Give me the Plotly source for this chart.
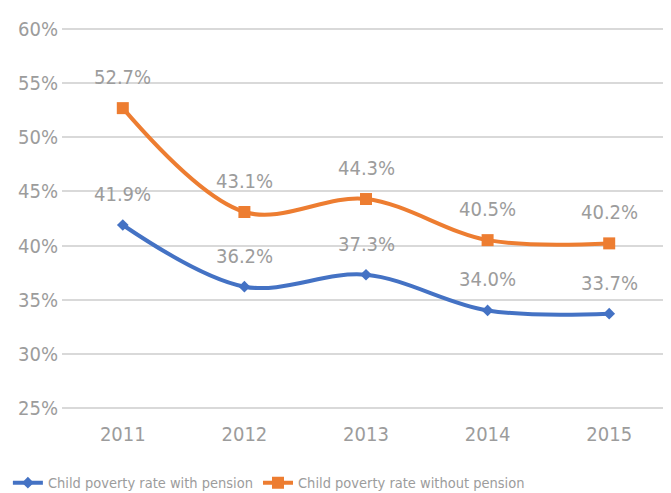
import plotly.graph_objects as go

years = ["2011", "2012", "2013", "2014", "2015"]
with_pension = [41.9, 36.2, 37.3, 34.0, 33.7]
without_pension = [52.7, 43.1, 44.3, 40.5, 40.2]
y_ticks = [25, 30, 35, 40, 45, 50, 55, 60]
series_names = ["Child poverty rate with pension", "Child poverty rate without pension"]

FONT = "DejaVu Sans Condensed, sans-serif"
GRAY = "#9c9c9c"
BLUE = "#4472C4"
ORANGE = "#ED7D31"

xi = list(range(len(years)))

fig = go.Figure()
fig.add_trace(go.Scatter(
    x=xi, y=with_pension, name=series_names[0], mode="lines+markers",
    line=dict(color=BLUE, width=4, shape="spline", smoothing=1.0),
    marker=dict(symbol="diamond", size=9, color=BLUE),
))
fig.add_trace(go.Scatter(
    x=xi, y=without_pension, name=series_names[1], mode="lines+markers",
    line=dict(color=ORANGE, width=4, shape="spline", smoothing=1.0),
    marker=dict(symbol="square", size=12, color=ORANGE),
))

annotations = []
for series in (with_pension, without_pension):
    for i, v in zip(xi, series):
        annotations.append(dict(
            x=i, y=v, xref="x", yref="y", text=f"{v:.1f}%", showarrow=False, yshift=31,
            font=dict(family=FONT, size=20, color=GRAY),
        ))

fig.update_layout(
    width=663, height=485,
    margin=dict(l=54, r=1, t=19, b=83, autoexpand=False),
    plot_bgcolor="white", paper_bgcolor="white",
    font=dict(family=FONT, size=20, color=GRAY),
    xaxis=dict(range=[-0.5, 4.5], autorange=False, tickvals=xi, ticktext=years,
               showgrid=False, showline=False, zeroline=False, ticks="",
               tickfont=dict(size=20, color=GRAY), ticklabelstandoff=10),
    yaxis=dict(range=[24.8, 60.2], autorange=False, tickvals=y_ticks,
               ticktext=[f"{t}%" for t in y_ticks],
               showgrid=True, gridcolor="#d9d9d9", gridwidth=2, zeroline=False,
               showline=False, ticks="", tickfont=dict(size=20, color=GRAY),
               ticklabelstandoff=3),
    legend=dict(orientation="h", x=-0.089, xanchor="left", y=-0.19, yanchor="middle",
                font=dict(family=FONT, size=14.5, color=GRAY), itemwidth=30,
                bgcolor="rgba(0,0,0,0)"),
    annotations=annotations,
    showlegend=True,
)

fig.write_html("out.html")
